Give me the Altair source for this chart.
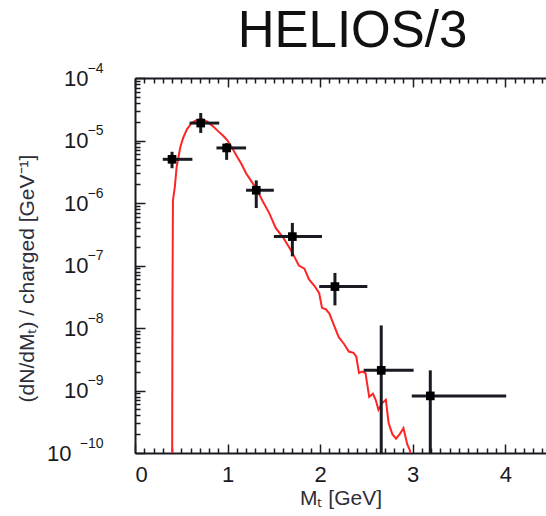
import altair as alt
import pandas as pd

W, H = 411, 375

# red model curve
curve_x = [0.40, 0.405, 0.41, 0.43, 0.45, 0.49, 0.52, 0.56, 0.61, 0.66, 0.72, 0.78, 0.84, 0.90,
           0.95, 1.00, 1.05, 1.10, 1.15, 1.20, 1.26, 1.31, 1.38, 1.45, 1.52, 1.60, 1.67,
           1.72, 1.77, 1.83, 1.88, 1.94, 1.99, 2.02, 2.06, 2.10, 2.15, 2.20, 2.26, 2.31,
           2.36, 2.39, 2.42, 2.45, 2.49, 2.53, 2.57, 2.60, 2.63, 2.67, 2.71, 2.74, 2.78,
           2.82, 2.86, 2.90, 2.94, 2.97, 3.00]
curve_y = [1e-11, 3e-8, 1.1e-6, 1.8e-6, 3.8e-6, 7.9e-6, 1.1e-5, 1.5e-5, 1.9e-5, 2.1e-5,
           2.2e-5, 2.0e-5, 1.7e-5, 1.4e-5, 1.2e-5, 1.0e-5, 7.6e-6, 5.6e-6, 4.2e-6, 3.0e-6,
           2.2e-6, 1.7e-6, 1.07e-6, 6.9e-7, 4.0e-7, 2.8e-7, 1.9e-7, 1.4e-7, 1.0e-7, 8.9e-8,
           6.0e-8, 4.7e-8, 3.6e-8, 2.1e-8, 2.0e-8, 1.7e-8, 1.1e-8, 7.2e-9, 5.5e-9, 4.2e-9,
           4.0e-9, 3.5e-9, 1.9e-9, 2.0e-9, 1.9e-9, 7.9e-10, 8.9e-10, 7.1e-10, 4.9e-10,
           6.3e-10, 7.1e-10, 3.0e-10, 2.0e-10, 1.7e-10, 2.0e-10, 2.5e-10, 1.4e-10,
           1.1e-10, 6e-11]

# HELIOS/3 data points
pt_x = [0.40, 0.71, 0.99, 1.31, 1.70, 2.16, 2.66, 3.19]
pt_y = [5.0e-6, 1.9e-5, 7.6e-6, 1.6e-6, 2.9e-7, 4.6e-8, 2.1e-9, 8.2e-10]
pt_xlo = [0.30, 0.59, 0.88, 1.20, 1.50, 1.99, 2.47, 2.99]
pt_xhi = [0.62, 0.91, 1.20, 1.50, 2.02, 2.51, 3.01, 4.01]
pt_ylo = [3.6e-6, 1.32e-5, 4.9e-6, 8.3e-7, 1.4e-7, 2.3e-8, 1e-11, 1e-11]
pt_yhi = [6.6e-6, 2.75e-5, 9.1e-6, 2.3e-6, 4.8e-7, 7.6e-8, 1.1e-8, 2.1e-9]

x_ticks = [0, 1, 2, 3, 4]
x_minor = [round(i * 0.1, 1) for i in range(45) if i % 10 != 0]
y_ticks = [1e-10, 1e-9, 1e-8, 1e-7, 1e-6, 1e-5, 1e-4]
y_exponents = ["−10", "−9", "−8", "−7", "−6", "−5", "−4"]
y_minor = [float(f"{k}e{e}") for e in range(-10, -4) for k in range(2, 10)]

curve = pd.DataFrame({"x": curve_x, "y": curve_y})
pts = pd.DataFrame({"x": pt_x, "y": pt_y, "xlo": pt_xlo, "xhi": pt_xhi,
                    "ylo": pt_ylo, "yhi": pt_yhi})

FONT = "Liberation Sans"
INK = "#1a1a22"
xs = alt.Scale(domain=[0, 4.44], nice=False, zero=False)
ys = alt.Scale(type="log", domain=[1e-10, 1e-4], nice=False)

exp_expr = "[" + ",".join(f"'{s}'" for s in y_exponents) + "][round(log(datum.value)/LN10)+10]"

x_main = alt.Axis(orient="bottom", values=x_ticks, format="d", labelFontSize=22,
                  labelFont=FONT, labelColor=INK, tickSize=0, labelPadding=11,
                  domainColor=INK, domainWidth=2, grid=False,
                  title="Mₜ  [GeV]", titleFont=FONT, titleFontSize=21,
                  titleFontWeight="normal", titleColor="#2e2e3a", titleY=45,
                  titleBaseline="middle")
# "10" part of the decade labels
y_main = alt.Axis(orient="left", values=y_ticks, labelExpr="'10'", labelFontSize=22,
                  labelFont=FONT, labelColor=INK, tickSize=0,
                  labelPadding={"condition": {"test": "datum.value < 2e-10", "value": 64},
                                "value": 47},
                  domainColor=INK, domainWidth=2, grid=False,
                  title="(dN/dMₜ) / charged [GeV⁻¹]", titleFont=FONT,
                  titleFontSize=21, titleFontWeight="normal", titleColor="#2e2e3a",
                  titleX=-108, titleY=200, titleAngle=270, titleBaseline="middle",
                  titleAlign="center")
# exponent part of the decade labels
y_exp = alt.Axis(orient="left", values=y_ticks, labelExpr=exp_expr, labelFontSize=14,
                 labelFont=FONT, labelColor=INK, tickSize=0, labelPadding=32,
                 labelOffset=-10, domain=False, grid=False, title=None)


def tick_axis(orient, values, size, offset, domain=False):
    return alt.Axis(orient=orient, values=values, labels=False, tickSize=size,
                    tickColor=INK, tickWidth=1.5, offset=offset, domain=domain,
                    domainColor=INK, domainWidth=2, grid=False, title=None)


line = alt.Chart(curve).mark_line(color="#ff2424", strokeWidth=2, clip=True).encode(
    x=alt.X("x:Q", scale=xs, axis=x_main),
    y=alt.Y("y:Q", scale=ys, axis=y_main),
)

hbar = alt.Chart(pts).mark_rule(color=INK, strokeWidth=3, clip=True).encode(
    x=alt.X("xlo:Q", scale=xs, axis=tick_axis("top", x_ticks, 9, -H)),
    x2="xhi:Q",
    y=alt.Y("y:Q", scale=ys, axis=tick_axis("right", y_ticks, 10, -W)),
)

vbar = alt.Chart(pts).mark_rule(color=INK, strokeWidth=3, clip=True).encode(
    x=alt.X("x:Q", scale=xs, axis=tick_axis("top", x_minor, 5, -H)),
    y=alt.Y("ylo:Q", scale=ys, axis=tick_axis("right", y_minor, 5, -W)),
    y2="yhi:Q",
)

dots = alt.Chart(pts).mark_square(color="#000", size=75, opacity=1, clip=True).encode(
    x=alt.X("x:Q", scale=xs, axis=tick_axis("bottom", x_ticks, 9, -H, domain=True)),
    y=alt.Y("y:Q", scale=ys, axis=y_exp),
)

dots_minor = alt.Chart(pts).mark_point(opacity=0).encode(
    x=alt.X("x:Q", scale=xs, axis=tick_axis("bottom", x_minor, 5, -H)),
    y=alt.Y("y:Q", scale=ys, axis=None),
)

chart = alt.layer(line, hbar, vbar, dots, dots_minor).resolve_axis(
    x="independent", y="independent"
).properties(
    width=W, height=H,
    padding={"left": 135, "top": 78, "right": 0, "bottom": 63},
    autosize=alt.AutoSizeParams(type="none"),
    title=alt.Title("HELIOS/3", font=FONT, fontSize=51, fontWeight="normal",
                    color="#111", anchor="middle", dx=12, offset=3),
    background="white",
).configure_view(stroke=None)

chart.save("out.html", embed_options={"renderer": "svg", "actions": False})
